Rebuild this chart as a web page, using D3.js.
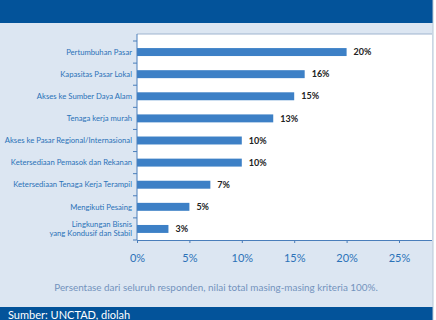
<!DOCTYPE html>
<html>
<head>
<meta charset="utf-8">
<script src="https://cdn.jsdelivr.net/npm/d3@7"></script>
<style>
  body { margin: 0; background: #fff; }
  svg { display: block; font-family: Lato, "Open Sans", sans-serif; }
</style>
</head>
<body>
<svg id="chart"></svg>
<script>
// data
const categories = [
  "Pertumbuhan Pasar",
  "Kapasitas Pasar Lokal",
  "Akses ke Sumber Daya Alam",
  "Tenaga kerja murah",
  "Akses ke Pasar Regional/Internasional",
  "Ketersediaan Pemasok dan Rekanan",
  "Ketersediaan Tenaga Kerja Terampil",
  "Mengikuti Pesaing",
  "Lingkungan Bisnis|yang Kondusif dan Stabil"
];
const values = [20, 16, 15, 13, 10, 10, 7, 5, 3];
const xTicks = [0, 5, 10, 15, 20, 25];
const note = "Persentase dari seluruh responden, nilai total masing-masing kriteria 100%.";
const source = "Sumber: UNCTAD, diolah";

const width = 436;
const height = 320;
const svg = d3.select("#chart").attr("width", width).attr("height", height);

// background panels
svg.append("rect").attr("x", 0).attr("y", 0).attr("width", 433).attr("height", height)
  .attr("fill", "#dce6f2");
svg.append("rect").attr("x", 0).attr("y", 0).attr("width", 433).attr("height", 23)
  .attr("fill", "#03539a");
svg.append("rect").attr("x", 0).attr("y", 307).attr("width", 433).attr("height", 13)
  .attr("fill", "#03539a");
svg.append("line").attr("x1", 433).attr("x2", 433).attr("y1", 0).attr("y2", height)
  .attr("stroke", "#b9c6d6").attr("stroke-width", 1);

// plot area
const plot = { left: 137, right: 432, top: 34, bottom: 240 };
svg.append("rect")
  .attr("x", plot.left).attr("y", plot.top)
  .attr("width", plot.right - plot.left).attr("height", plot.bottom - plot.top)
  .attr("fill", "#fff");
svg.append("line")
  .attr("x1", plot.left).attr("x2", plot.right).attr("y1", plot.top).attr("y2", plot.top)
  .attr("stroke", "#9fb4cf").attr("stroke-width", 1);

const x = d3.scaleLinear().domain([0, 25]).range([plot.left, 399]);
const y = d3.scaleBand().domain(categories).range([41, plot.bottom]).paddingInner(0.64).paddingOuter(0.32);

const axisColor = "#4a7ebb";
const labelColor = "#2b72b8";

// bars
svg.selectAll(".bar").data(values).enter().append("rect")
  .attr("class", "bar")
  .attr("x", x(0))
  .attr("y", (d, i) => y(categories[i]))
  .attr("width", (d) => x(d) - x(0))
  .attr("height", y.bandwidth())
  .attr("fill", "#3d80c6");

// value labels
svg.selectAll(".val").data(values).enter().append("text")
  .attr("class", "val")
  .attr("x", (d) => x(d) + 7)
  .attr("y", (d, i) => y(categories[i]) + y.bandwidth() / 2)
  .attr("dy", "0.35em")
  .attr("font-size", 9)
  .attr("font-weight", "bold")
  .attr("fill", "#222")
  .text((d) => d + "%");

// y axis
const yAxis = svg.append("g").attr("transform", `translate(${plot.left},0)`);
yAxis.append("line").attr("x1", 0).attr("x2", 0).attr("y1", plot.top).attr("y2", plot.bottom)
  .attr("stroke", axisColor);
d3.range(categories.length + 1).forEach((i) => {
  const ty = 41 + i * (plot.bottom - 41) / categories.length;
  yAxis.append("line").attr("x1", -4).attr("x2", 0).attr("y1", ty).attr("y2", ty)
    .attr("stroke", axisColor);
});
categories.forEach((c) => {
  const lines = c.split("|");
  const cy = y(c) + y.bandwidth() / 2;
  const t = yAxis.append("text")
    .attr("x", -5)
    .attr("y", cy - (lines.length - 1) * 4.5)
    .attr("text-anchor", "end")
    .attr("font-size", 7.7)
    .attr("fill", labelColor);
  lines.forEach((l, j) => {
    t.append("tspan").attr("x", -5).attr("dy", j === 0 ? "0.35em" : "1.2em").text(l);
  });
});

// x axis
const xAxis = svg.append("g").attr("transform", `translate(0,${plot.bottom})`)
  .call(d3.axisBottom(x).tickValues(xTicks).tickFormat((d) => d + "%").tickSize(3).tickPadding(11));
xAxis.select(".domain").attr("stroke", axisColor).attr("d", `M${plot.left},0.5H${plot.right}`);
xAxis.selectAll(".tick line").attr("stroke", axisColor);
xAxis.selectAll(".tick text")
  .attr("font-size", 11)
  .attr("font-family", "Lato, 'Open Sans', sans-serif")
  .attr("fill", labelColor);

// footnote
svg.append("text")
  .attr("x", 216).attr("y", 291)
  .attr("text-anchor", "middle")
  .attr("font-size", 9.9)
  .attr("fill", "#7393bd")
  .text(note);

// source bar text
svg.append("text")
  .attr("x", 8).attr("y", 318.5)
  .attr("font-size", 11)
  .attr("fill", "#fff")
  .text(source);
</script>
</body>
</html>
